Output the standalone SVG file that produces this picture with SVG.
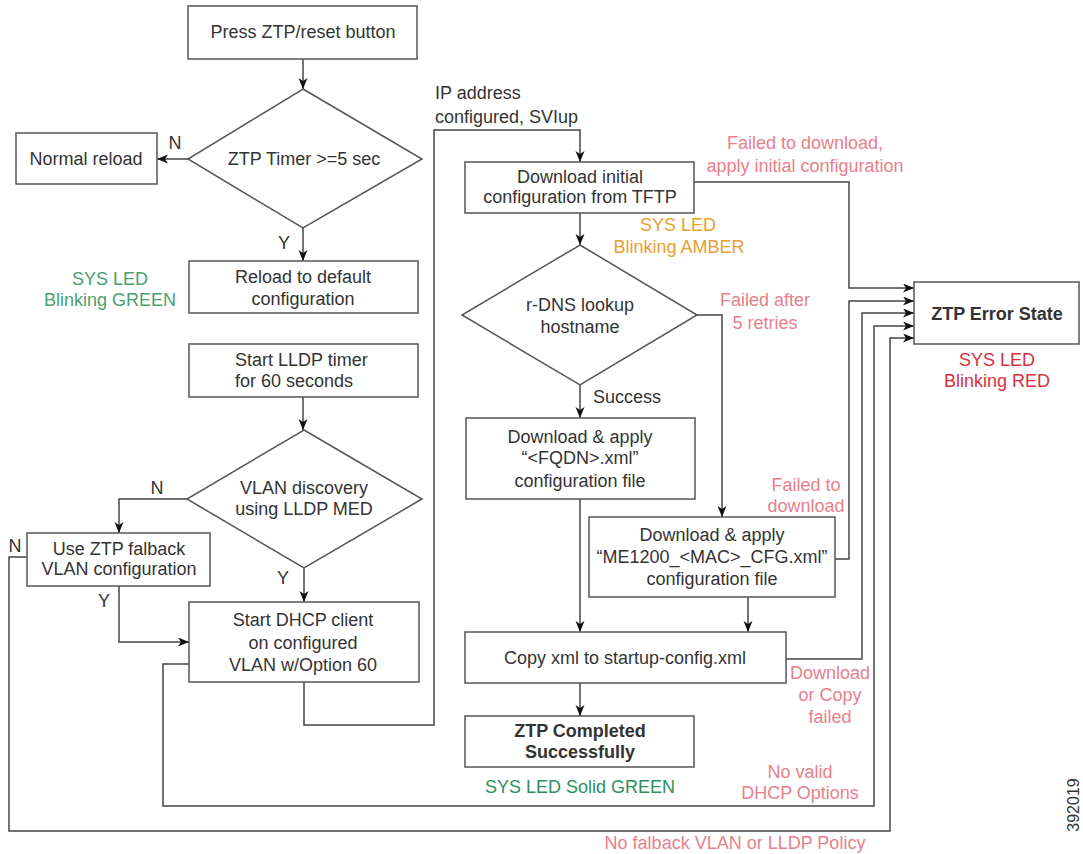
<svg xmlns="http://www.w3.org/2000/svg" width="1083" height="854" viewBox="0 0 1083 854">
  <style>
    .box { fill: #fff; stroke: #555; stroke-width: 1.5; }
    .t { font-family: "Liberation Sans", Arial, sans-serif; font-size: 18px; fill: #333; text-anchor: middle; }
    .b { font-weight: bold; }
    .l { text-anchor: start; }
    .green { fill: #4aa070; }
    .dgreen { fill: #2f8f5a; }
    .amber { fill: #e8a030; }
    .pink { fill: #e8808a; }
    .red { fill: #d8303c; }
    .c { fill: none; stroke: #444; stroke-width: 1.5; }
  </style>
  <defs>
    <marker id="arr" markerUnits="userSpaceOnUse" markerWidth="12" markerHeight="10" refX="11" refY="4.5" orient="auto">
      <path d="M0,0 L11,4.5 L0,9 L3,4.5 z" fill="#111"/>
    </marker>
  </defs>
  <rect width="1083" height="854" fill="#fff"/>

  <g id="connectors">
    <path class="c" d="M303,59 V89" marker-end="url(#arr)"/>
    <path class="c" d="M188,159 H157" marker-end="url(#arr)"/>
    <path class="c" d="M303,228 V261" marker-end="url(#arr)"/>
    <path class="c" d="M303,397 V430" marker-end="url(#arr)"/>
    <path class="c" d="M187,499 H119 V533" marker-end="url(#arr)"/>
    <path class="c" d="M304,568 V602" marker-end="url(#arr)"/>
    <path class="c" d="M119,586 V642 H189" marker-end="url(#arr)"/>
    <path class="c" d="M304,682 V725 H434 V130 H580 V162" marker-end="url(#arr)"/>
    <path class="c" d="M580,213 V245" marker-end="url(#arr)"/>
    <path class="c" d="M694,182 H849 V288 H914" marker-end="url(#arr)"/>
    <path class="c" d="M697,315 H722 V517" marker-end="url(#arr)"/>
    <path class="c" d="M580,385 V418" marker-end="url(#arr)"/>
    <path class="c" d="M580,499 V632" marker-end="url(#arr)"/>
    <path class="c" d="M748,597 V632" marker-end="url(#arr)"/>
    <path class="c" d="M835,559 H849 V301 H914" marker-end="url(#arr)"/>
    <path class="c" d="M786,659 H862 V313 H914" marker-end="url(#arr)"/>
    <path class="c" d="M580,683 V716" marker-end="url(#arr)"/>
    <path class="c" d="M189,664 H163 V806 H874 V326 H914" marker-end="url(#arr)"/>
    <path class="c" d="M27,557 H9 V831 H890 V338 H914" marker-end="url(#arr)"/>
  </g>

  <g id="press">
    <rect class="box" x="188" y="6" width="229" height="53"/>
    <text class="t" x="303" y="38">Press ZTP/reset button</text>
  </g>
  <g id="timer">
    <polygon class="box" points="303,89 422,159 303,228 188,159"/>
    <text class="t" x="304" y="165">ZTP Timer &gt;=5 sec</text>
    <text class="t" x="175" y="149">N</text>
    <text class="t" x="284" y="249">Y</text>
  </g>
  <g id="normal">
    <rect class="box" x="16" y="133" width="141" height="51"/>
    <text class="t" x="86" y="165">Normal reload</text>
  </g>
  <g id="reload">
    <rect class="box" x="189" y="261" width="229" height="52"/>
    <text class="t" x="303" y="283">Reload to default</text>
    <text class="t" x="303" y="305">configuration</text>
    <text class="t green" x="110" y="285">SYS LED</text>
    <text class="t green" x="110" y="306">Blinking GREEN</text>
  </g>
  <g id="lldp">
    <rect class="box" x="189" y="344" width="229" height="53"/>
    <text class="t l" x="235" y="366">Start LLDP timer</text>
    <text class="t l" x="235" y="387">for 60 seconds</text>
  </g>
  <g id="vlan">
    <polygon class="box" points="304,430 422,499 304,568 187,499"/>
    <text class="t" x="304" y="494">VLAN discovery</text>
    <text class="t" x="304" y="515">using LLDP MED</text>
    <text class="t" x="157" y="494">N</text>
    <text class="t" x="283" y="584">Y</text>
  </g>
  <g id="fallback">
    <rect class="box" x="27" y="533" width="183" height="53"/>
    <text class="t" x="119" y="555">Use ZTP falback</text>
    <text class="t" x="119" y="575">VLAN configuration</text>
    <text class="t" x="15" y="552">N</text>
    <text class="t" x="104" y="607">Y</text>
  </g>
  <g id="dhcp">
    <rect class="box" x="189" y="602" width="230" height="80"/>
    <text class="t" x="303" y="626">Start DHCP client</text>
    <text class="t" x="303" y="649">on configured</text>
    <text class="t" x="303" y="671">VLAN w/Option 60</text>
  </g>
  <g id="ip-label">
    <text class="t l" x="435" y="99">IP address</text>
    <text class="t l" x="435" y="123">configured, SVIup</text>
  </g>
  <g id="tftp">
    <rect class="box" x="465" y="162" width="229" height="51"/>
    <text class="t" x="580" y="183">Download initial</text>
    <text class="t" x="580" y="203">configuration from TFTP</text>
    <text class="t amber" x="678" y="231">SYS LED</text>
    <text class="t amber" x="679" y="253">Blinking AMBER</text>
    <text class="t pink" x="805" y="149">Failed to download,</text>
    <text class="t pink" x="805" y="172">apply initial configuration</text>
  </g>
  <g id="rdns">
    <polygon class="box" points="580,245 697,315 580,385 462,315"/>
    <text class="t" x="580" y="311">r-DNS lookup</text>
    <text class="t" x="580" y="333">hostname</text>
    <text class="t pink" x="765" y="306">Failed after</text>
    <text class="t pink" x="765" y="329">5 retries</text>
    <text class="t l" x="593" y="403">Success</text>
  </g>
  <g id="fqdn">
    <rect class="box" x="466" y="418" width="229" height="81"/>
    <text class="t" x="580" y="443">Download &amp; apply</text>
    <text class="t" x="580" y="464">“&lt;FQDN&gt;.xml”</text>
    <text class="t" x="580" y="487">configuration file</text>
  </g>
  <g id="mac">
    <rect class="box" x="589" y="517" width="246" height="80"/>
    <text class="t" x="712" y="541">Download &amp; apply</text>
    <text class="t" x="712" y="563">“ME1200_&lt;MAC&gt;_CFG.xml”</text>
    <text class="t" x="712" y="585">configuration file</text>
    <text class="t pink" x="806" y="491">Failed to</text>
    <text class="t pink" x="806" y="512">download</text>
  </g>
  <g id="copy">
    <rect class="box" x="465" y="632" width="321" height="51"/>
    <text class="t" x="625" y="664">Copy xml to startup-config.xml</text>
    <text class="t pink" x="830" y="679">Download</text>
    <text class="t pink" x="830" y="701">or Copy</text>
    <text class="t pink" x="830" y="723">failed</text>
  </g>
  <g id="completed">
    <rect class="box" x="465" y="716" width="229" height="51"/>
    <text class="t b" x="580" y="737">ZTP Completed</text>
    <text class="t b" x="580" y="758">Successfully</text>
    <text class="t dgreen" x="580" y="793">SYS LED Solid GREEN</text>
  </g>
  <g id="error">
    <rect class="box" x="914" y="282" width="165" height="62"/>
    <text class="t b" x="997" y="320">ZTP Error State</text>
    <text class="t red" x="997" y="366">SYS LED</text>
    <text class="t red" x="997" y="387">Blinking RED</text>
  </g>
  <g id="loop-labels">
    <text class="t pink" x="800" y="778">No valid</text>
    <text class="t pink" x="800" y="799">DHCP Options</text>
    <text class="t pink" x="735" y="849">No falback VLAN or LLDP Policy</text>
  </g>
  <text class="t" x="0" y="0" font-size="16" transform="translate(1079,805) rotate(-90)" style="font-size:16px">392019</text>
</svg>
